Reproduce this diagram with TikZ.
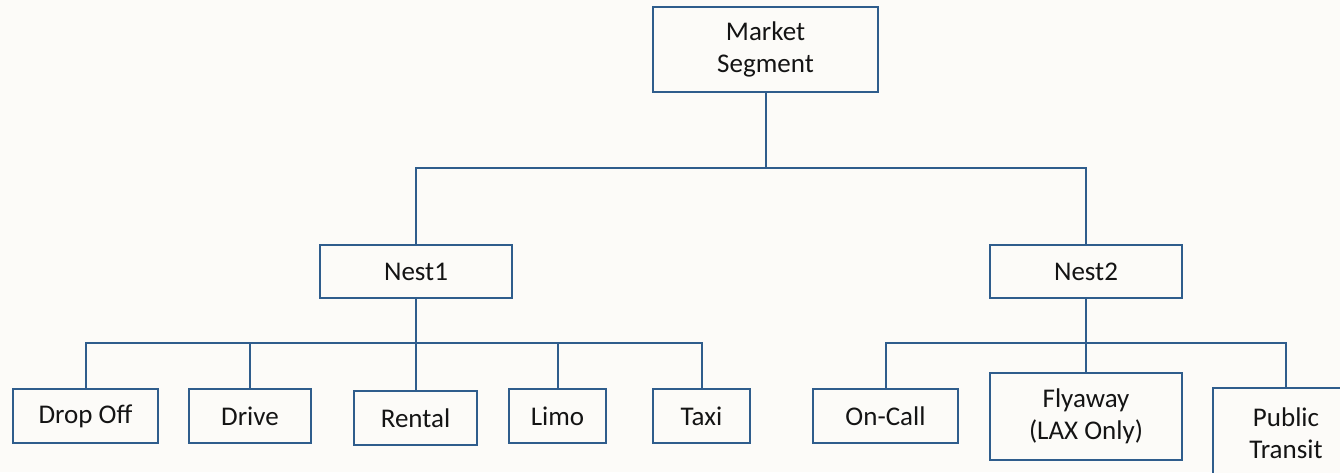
\documentclass[tikz,border=0pt]{standalone}
\usepackage{fontspec}
\setmainfont{Carlito}
\definecolor{bg}{HTML}{FCFBF8}
\definecolor{ln}{HTML}{2F5D8C}
\definecolor{tx}{HTML}{141414}
\begin{document}
\begin{tikzpicture}[x=1pt,y=-1pt,
  box/.style={draw=ln, line width=2pt, fill=bg, text=tx, align=center, inner sep=0pt,
    font=\fontsize{27}{32}\selectfont},
  conn/.style={draw=ln, line width=2pt}]
\useasboundingbox (0,0) rectangle (1340,472);
\fill[bg] (0,0) rectangle (1340,472);
\clip (0,0) rectangle (1340,472);
% nodes
\node[box, minimum width=225pt, minimum height=85pt] (ms) at (765.5,49.5) {Market\\Segment};
\node[box, minimum width=192pt, minimum height=53pt] (n1) at (416,271.5) {Nest1};
\node[box, minimum width=192pt, minimum height=53pt] (n2) at (1086,271.5) {Nest2};
\node[box, minimum width=145pt, minimum height=54pt] (dropoff) at (85.5,416) {Drop Off};
\node[box, minimum width=122pt, minimum height=54pt] (drive) at (250,416) {Drive};
\node[box, minimum width=123pt, minimum height=54pt] (rental) at (415.5,418) {Rental};
\node[box, minimum width=97pt, minimum height=54pt] (limo) at (557.5,416) {Limo};
\node[box, minimum width=97pt, minimum height=54pt] (taxi) at (701.5,416) {Taxi};
\node[box, minimum width=145pt, minimum height=54pt] (oncall) at (885.5,416) {On-Call};
\node[box, minimum width=192pt, minimum height=87pt] (fly) at (1086,416.5) {Flyaway\\(LAX Only)};
\node[box, minimum width=146pt, minimum height=90pt] (pt) at (1286,433) {Public\\Transit};
% bus coordinates
\coordinate (bus0) at (766,168);
\coordinate (bus1) at (416,343);
\coordinate (bus2) at (1086,343);
% connectors
\draw[conn] (ms.south) -- (ms.south |- bus0) -| (n1.north);
\draw[conn] (ms.south) -- (ms.south |- bus0) -| (n2.north);
\foreach \c in {dropoff,drive,rental,limo,taxi}
  \draw[conn] (n1.south) -- (n1.south |- bus1) -| (\c.north);
\foreach \c in {oncall,fly,pt}
  \draw[conn] (n2.south) -- (n2.south |- bus2) -| (\c.north);
\end{tikzpicture}
\end{document}
